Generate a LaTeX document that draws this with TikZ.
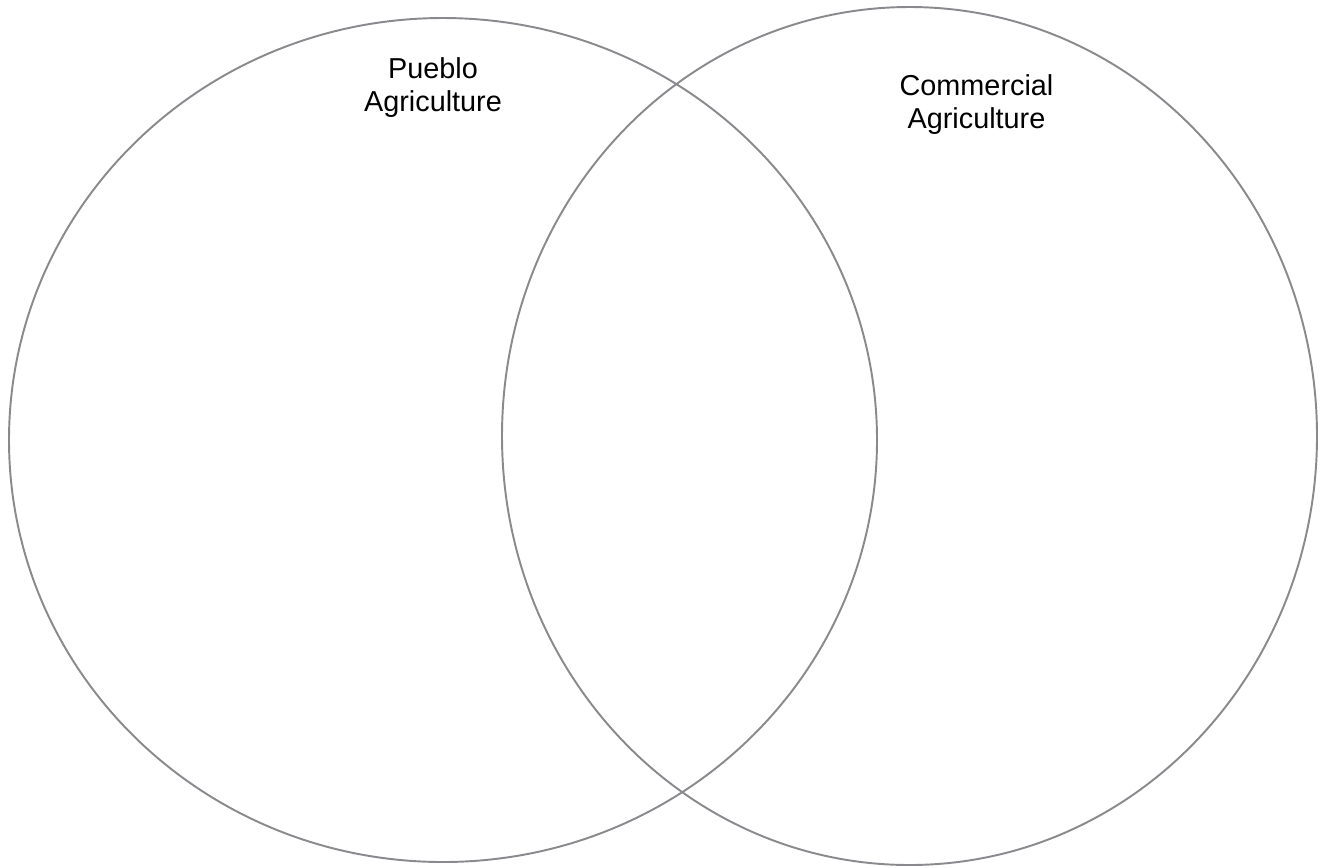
\documentclass[tikz,border=0pt]{standalone}
\usepackage{fontspec}
\setmainfont{Liberation Sans}
\usepackage{tikz}
\usetikzlibrary{positioning}
\definecolor{RingGray}{RGB}{138,138,142}

\begin{document}
\begin{tikzpicture}[x=0.02cm, y=-0.02cm,
          ring/.style={draw=RingGray, line width=1.1pt},
          title/.style={align=center, inner sep=0pt, anchor=base,
                        font=\fontsize{16.4pt}{18.6pt}\selectfont}
        ]
        \useasboundingbox (0,0) rectangle (1325,867);

        % Two overlapping sets
        \coordinate (pueblo) at (443,440);
        \coordinate (commercial) at (909.5,436);
        \draw[ring] (pueblo) ellipse [x radius=434, y radius=422];
        \draw[ring] (commercial) ellipse [x radius=407.5, y radius=429];

        % Set titles (base sits on the last line)
        \node[title] (puebloTitle) at (433,111) {Pueblo\\Agriculture};
        \node[title] (commercialTitle) at (976.5,128) {Commercial\\Agriculture};
      \end{tikzpicture}
\end{document}
